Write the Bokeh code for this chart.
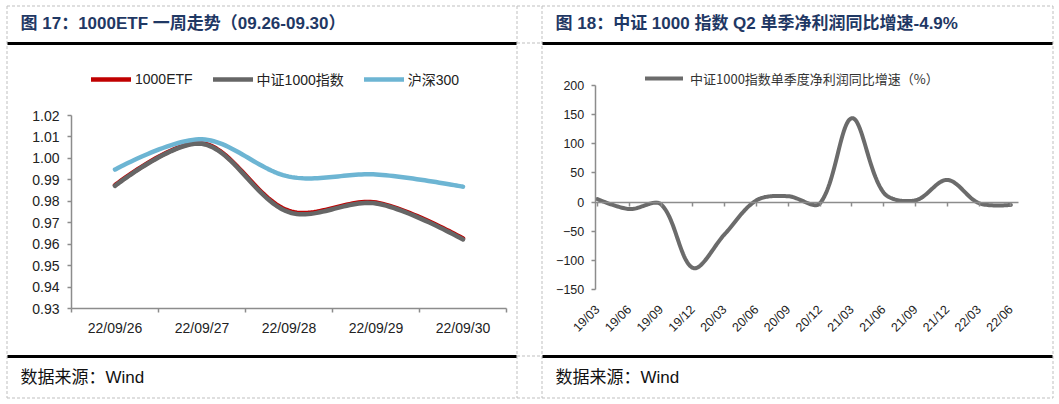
import numpy as np
from math import pi
from bokeh.plotting import figure
from bokeh.models import (Range1d, LinearAxis, FixedTicker, Legend, LegendItem,
                          Label, PrintfTickFormatter)
from bokeh.embed import file_html
from bokeh.resources import INLINE

# ---------------- data ----------------
l_dates = ["22/09/26", "22/09/27", "22/09/28", "22/09/29", "22/09/30"]
etf1000 = [0.9875, 1.0071, 0.9755, 0.9794, 0.9627]
csi1000 = [0.9872, 1.0068, 0.9749, 0.9790, 0.9622]
hs300 = [0.9948, 1.0089, 0.9915, 0.9925, 0.9868]
l_yticks = [0.93, 0.94, 0.95, 0.96, 0.97, 0.98, 0.99, 1.00, 1.01, 1.02]

r_quarters = ["19/03", "19/06", "19/09", "19/12", "20/03", "20/06", "20/09",
              "20/12", "21/03", "21/06", "21/09", "21/12", "22/03", "22/06"]
r_growth = [5, -12, -4, -113, -55, 3, 10, -2, 144, 16, 3, 38, -2, -4.9]
r_yticks = [-150, -100, -50, 0, 50, 100, 150, 200]

left_title = "图 17：1000ETF 一周走势（09.26-09.30）"
right_title = "图 18：中证 1000 指数 Q2 单季净利润同比增速-4.9%"
source_text = "数据来源：Wind"
l_names = ["1000ETF", "中证1000指数", "沪深300"]
r_name = "中证1000指数单季度净利润同比增速（%）"

# ---------------- layout constants (page pixels) ----------------
W, H = 1056, 402


def rng_from(p_a, v_a, p_b, v_b, lo, hi):
    """linear range so that page pixel p_a -> v_a and p_b -> v_b"""
    k = (v_b - v_a) / (p_b - p_a)
    return v_a + (lo - p_a) * k, v_a + (hi - p_a) * k


def smooth(xs, ys, kx, ky, n=30):
    """Bezier smoothing with chord-length weighted tangents (screen space)."""
    xs = np.asarray(xs, float)
    ys = np.asarray(ys, float)
    X, Y = xs * kx, ys * ky
    m = len(xs)
    d = np.hypot(np.diff(X), np.diff(Y))
    cin, cout = [], []
    for i in range(m):
        if i == 0 or i == m - 1:
            cin.append((X[i], Y[i]))
            cout.append((X[i], Y[i]))
            continue
        tx, ty = X[i + 1] - X[i - 1], Y[i + 1] - Y[i - 1]
        a, b = d[i - 1], d[i]
        s = a + b
        cin.append((X[i] - tx * a / s / 3, Y[i] - ty * a / s / 3))
        cout.append((X[i] + tx * b / s / 3, Y[i] + ty * b / s / 3))
    ox, oy = [], []
    for i in range(m - 1):
        x0, y0, x3, y3 = X[i], Y[i], X[i + 1], Y[i + 1]
        x1, y1 = cout[i]
        x2, y2 = cin[i + 1]
        t = np.linspace(0, 1, n, endpoint=(i == m - 2))
        a, b, c, e = (1 - t) ** 3, 3 * t * (1 - t) ** 2, 3 * t ** 2 * (1 - t), t ** 3
        ox.extend((a * x0 + b * x1 + c * x2 + e * x3) / kx)
        oy.extend((a * y0 + b * y1 + c * y2 + e * y3) / ky)
    return ox, oy


p = figure(width=W, height=H, output_backend="svg", toolbar_location=None,
           x_range=Range1d(0, W), y_range=Range1d(H, 0),
           x_axis_location=None, y_axis_location=None,
           min_border=0, min_border_left=0, min_border_right=0,
           min_border_top=0, min_border_bottom=0)
p.outline_line_color = None
p.grid.visible = False
p.background_fill_color = "white"
p.border_fill_color = "white"

# left chart ranges (page px anchors)
L_PX = 87.0                      # px per category
L_PY = 193.0 / 0.09              # px per unit
lx0, lx1 = rng_from(114.5, 0, 114.5 + L_PX, 1, 0, W)
ly0, ly1 = rng_from(308, 0.93, 115, 1.02, H, 0)
# right chart ranges
R_PX = 31.8
R_PY = 204.0 / 350
rx0, rx1 = rng_from(597, 0, 597 + R_PX, 1, 0, W)
ry0, ry1 = rng_from(289, -150, 85, 200, H, 0)
p.extra_x_ranges = {"lx": Range1d(lx0, lx1), "rx": Range1d(rx0, rx1)}
p.extra_y_ranges = {"ly": Range1d(ly0, ly1), "ry": Range1d(ry0, ry1)}

# ---------------- frame decorations ----------------
dash_col = "#BFBFBF"
vx = [6.5, 516.5, 541.5, 1052.5]
p.segment(x0=vx, y0=[5.5] * 4, x1=vx, y1=[397.5] * 4,
          line_color=dash_col, line_width=1, line_dash="3 2")
p.segment(x0=[6.5, 6.5, 516.5, 516.5], y0=[5.5, 397.5, 42.5, 355.5],
          x1=[1052.5, 1052.5, 541.5, 541.5], y1=[5.5, 397.5, 42.5, 355.5],
          line_color=dash_col, line_width=1, line_dash="3 2")
p.segment(x0=[7, 542, 7, 542], y0=[43, 43, 356, 356],
          x1=[516, 1052, 516, 1052], y1=[43, 43, 356, 356],
          line_color="black", line_width=3)

title_font = "Liberation Sans, Noto Sans CJK SC"
for tx, txt in [(20, left_title), (555, right_title)]:
    p.add_layout(Label(x=tx, y=22.5, text=txt, text_font=title_font,
                       text_font_style="bold", text_font_size="17px",
                       text_color="#1F3864", text_baseline="middle"))
for tx in [20, 555]:
    p.add_layout(Label(x=tx, y=377, text=source_text, text_font=title_font,
                       text_font_size="17px", text_color="#111111",
                       text_baseline="middle"))

# ---------------- left chart ----------------
axis_col = "#8C8C8C"
lab_font = "Liberation Sans, Noto Sans CJK SC"
li = list(range(len(l_dates)))
sx, sy = smooth(li, etf1000, L_PX, L_PY)
r_etf = p.line(sx, sy, x_range_name="lx", y_range_name="ly", line_color="#C00000",
               line_width=4.5, line_cap="round", line_join="round")
sx, sy = smooth(li, csi1000, L_PX, L_PY)
r_csi = p.line(sx, sy, x_range_name="lx", y_range_name="ly", line_color="#666666",
               line_width=4.5, line_cap="round", line_join="round")
sx, sy = smooth(li, hs300, L_PX, L_PY)
r_hs = p.line(sx, sy, x_range_name="lx", y_range_name="ly", line_color="#6DB5D3",
              line_width=4.5, line_cap="round", line_join="round")

bounds_lx = [i - 0.5 for i in range(len(l_dates) + 1)]

ly_axis = LinearAxis(x_range_name="lx", y_range_name="ly", fixed_location=bounds_lx[0],
                     bounds=(l_yticks[0], l_yticks[-1]),
                     ticker=FixedTicker(ticks=l_yticks),
                     formatter=PrintfTickFormatter(format="%.2f"))
p.add_layout(ly_axis, "left")

lx_ticks = LinearAxis(x_range_name="lx", y_range_name="ly", fixed_location=l_yticks[0],
                      bounds=(bounds_lx[0], bounds_lx[-1]),
                      ticker=FixedTicker(ticks=bounds_lx),
                      major_label_overrides={b: "" for b in bounds_lx})
p.add_layout(lx_ticks, "below")

lx_labels = LinearAxis(x_range_name="lx", y_range_name="ly", fixed_location=l_yticks[0],
                       ticker=FixedTicker(ticks=li),
                       major_label_overrides={i: d for i, d in zip(li, l_dates)})
p.add_layout(lx_labels, "below")

for ax in (ly_axis, lx_ticks, lx_labels):
    ax.axis_line_color = axis_col
    ax.axis_line_width = 1.5
    ax.major_tick_line_color = axis_col
    ax.major_tick_line_width = 1.5
    ax.major_tick_out = 4
    ax.major_tick_in = 0
    ax.minor_tick_out = 0
    ax.minor_tick_in = 0
    ax.major_label_text_font = lab_font
    ax.major_label_text_font_size = "14px"
    ax.major_label_text_color = "#222222"
    ax.major_label_standoff = 8
lx_labels.axis_line_color = None
lx_labels.major_tick_line_color = None
lx_labels.major_tick_out = 0
lx_labels.major_label_standoff = 11

p.add_layout(Legend(items=[LegendItem(label=l_names[0], renderers=[r_etf]),
                           LegendItem(label=l_names[1], renderers=[r_csi]),
                           LegendItem(label=l_names[2], renderers=[r_hs])],
                    location=(91, H - 89), orientation="horizontal",
                    glyph_width=40, glyph_height=20, label_height=20,
                    label_standoff=4, spacing=20, padding=0, margin=0,
                    border_line_color=None, background_fill_alpha=0,
                    label_text_font=lab_font, label_text_font_size="14px",
                    label_text_color="#222222"), "center")

# ---------------- right chart ----------------
ri = list(range(len(r_quarters)))
sx, sy = smooth(ri, r_growth, R_PX, R_PY)
r_gr = p.line(sx, sy, x_range_name="rx", y_range_name="ry", line_color="#6B6B6B",
              line_width=4, line_cap="round", line_join="round")

ry_axis = LinearAxis(x_range_name="rx", y_range_name="ry", fixed_location=-0.07,
                     bounds=(r_yticks[0], r_yticks[-1]),
                     ticker=FixedTicker(ticks=r_yticks))
p.add_layout(ry_axis, "left")

rx_ticks = LinearAxis(x_range_name="rx", y_range_name="ry", fixed_location=0,
                      bounds=(-0.07, 13.25), ticker=FixedTicker(ticks=ri),
                      major_label_overrides={i: "" for i in ri})
p.add_layout(rx_ticks, "below")

rx_labels = LinearAxis(x_range_name="rx", y_range_name="ry", fixed_location=r_yticks[0],
                       ticker=FixedTicker(ticks=ri),
                       major_label_overrides={i: q for i, q in zip(ri, r_quarters)},
                       major_label_orientation=pi / 4)
p.add_layout(rx_labels, "below")

for ax in (ry_axis, rx_ticks, rx_labels):
    ax.axis_line_color = axis_col
    ax.axis_line_width = 1.5
    ax.major_tick_line_color = axis_col
    ax.major_tick_line_width = 1.5
    ax.major_tick_out = 4
    ax.major_tick_in = 0
    ax.minor_tick_out = 0
    ax.minor_tick_in = 0
    ax.major_label_text_font = lab_font
    ax.major_label_text_font_size = "12.5px"
    ax.major_label_text_color = "#222222"
    ax.major_label_standoff = 7
rx_labels.axis_line_color = None
rx_labels.major_tick_line_color = None
rx_labels.major_tick_out = 0
rx_labels.major_label_standoff = 18

p.add_layout(Legend(items=[LegendItem(label=r_name, renderers=[r_gr])],
                    location=(645, H - 88), orientation="horizontal",
                    glyph_width=38, glyph_height=20, label_height=20,
                    label_standoff=7, spacing=10, padding=0, margin=0,
                    border_line_color=None, background_fill_alpha=0,
                    label_text_font="Noto Sans CJK SC", label_text_font_size="13px",
                    label_text_color="#333333"), "center")

open("out.html", "w").write(file_html(p, INLINE))
